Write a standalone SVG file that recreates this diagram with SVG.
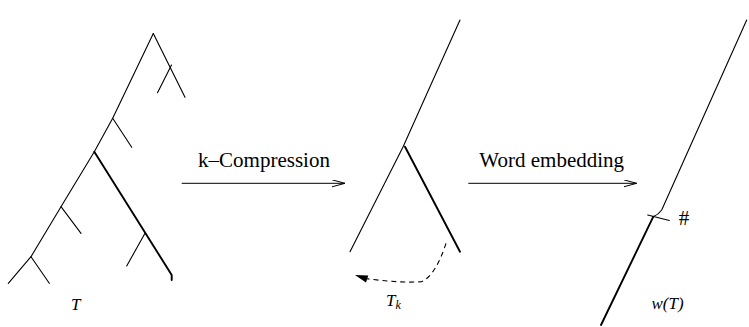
<svg xmlns="http://www.w3.org/2000/svg" width="749" height="327" viewBox="0 0 749 327">
<style>
.thin{fill:none;stroke:#000;stroke-width:1.1;stroke-linecap:round;stroke-linejoin:round}
.thick{fill:none;stroke:#000;stroke-width:1.9;stroke-linecap:round;stroke-linejoin:round}
.lbl{font-family:"Liberation Serif","Times New Roman",serif;font-size:21px;fill:#000}
.it{font-family:"Liberation Serif","Times New Roman",serif;font-style:italic;font-size:17px;fill:#000}
</style>
<defs>
<marker id="open" markerWidth="16" markerHeight="10" refX="13" refY="3.5" orient="auto" markerUnits="userSpaceOnUse">
<path d="M0,0 L13,3.5 L0,7" fill="none" stroke="#000" stroke-width="1"/>
</marker>
</defs>
<rect width="749" height="327" fill="#fff"/>
<g id="tree-T">
<polyline class="thin" points="153.3,33.5 112.7,118.3 94.3,151.7 61,206.7 31,256.7 8.3,283.3"/>
<line class="thin" x1="153.3" y1="33.5" x2="185" y2="97.3"/>
<line class="thin" x1="171.5" y1="65" x2="157.5" y2="92.7"/>
<line class="thin" x1="112.7" y1="118.3" x2="131.7" y2="147.3"/>
<polyline class="thick" points="94.3,151.7 171.7,275 171.7,280"/>
<line class="thin" x1="145" y1="233.3" x2="126.7" y2="266"/>
<line class="thin" x1="61" y1="206.7" x2="81" y2="233.3"/>
<line class="thin" x1="31" y1="256.7" x2="49.3" y2="283.3"/>
<text class="it" x="71" y="310">T</text>
</g>
<g id="tree-Tk">
<polyline class="thin" points="460,20 433,80 403,147 350,251.7"/>
<line class="thick" x1="405" y1="146.7" x2="460" y2="251.7"/>
<path d="M446,243.3 C440,262 432,277 421.7,281.7 C404,283 386,281 367,278.8" fill="none" stroke="#000" stroke-width="1.1" stroke-dasharray="5,4"/>
<polygon points="355,275 368.3,275.5 366,282.5" fill="#000"/>
<text class="it" x="386" y="306">T<tspan font-size="12" dy="3">k</tspan></text>
</g>
<g id="word-wT">
<path class="thin" d="M746.7,20 L661.7,210 Q658.5,214.5 653.3,216.7"/>
<line class="thick" x1="653.3" y1="216.7" x2="601" y2="325"/>
<line class="thin" x1="647.7" y1="215" x2="669.3" y2="220.5"/>
<text class="lbl" x="684" y="225" font-size="17" text-anchor="middle">#</text>
<text class="it" x="651.5" y="309">w(T)</text>
</g>
<g id="connectors">
<line x1="181.7" y1="183.3" x2="345" y2="183.3" stroke="#000" stroke-width="1" marker-end="url(#open)"/>
<text class="lbl" x="264" y="166.5" text-anchor="middle">k–Compression</text>
<line x1="468.3" y1="183.3" x2="636.7" y2="183.3" stroke="#000" stroke-width="1" marker-end="url(#open)"/>
<text class="lbl" x="551.7" y="166.5" text-anchor="middle">Word embedding</text>
</g>
</svg>
